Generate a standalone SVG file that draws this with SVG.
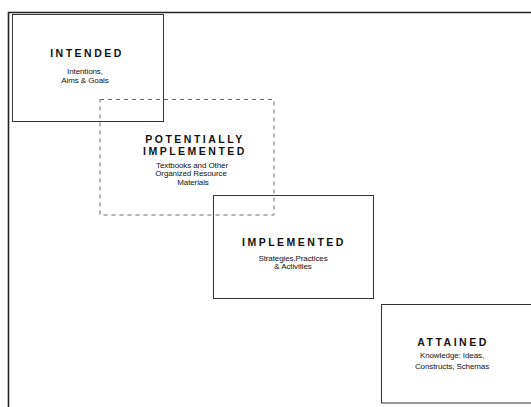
<svg xmlns="http://www.w3.org/2000/svg" width="531" height="407" viewBox="0 0 531 407">
<style>
.box{fill:none;stroke:#333;stroke-width:1}
.dash{fill:none;stroke:#666;stroke-width:1;stroke-dasharray:4 4}
.frame{fill:none;stroke:#222;stroke-width:1.6}
.h{font-family:"Liberation Sans",Arial,sans-serif;font-weight:bold;font-size:10.5px;letter-spacing:2.5px;fill:#111;text-anchor:middle}
.c{font-family:"Liberation Sans",Arial,sans-serif;font-size:8px;fill:#111;text-anchor:middle;letter-spacing:-0.1px}
</style>
<rect width="531" height="407" fill="#fff"/>
<path class="frame" d="M8.5,407 V12.5 H531"/>
<g id="connectors"></g>
<g id="intended">
<rect class="box" x="12.5" y="14.5" width="151" height="107"/>
<text class="h" x="87" y="57">INTENDED</text>
<text class="c" x="85" y="74">Intentions,</text>
<text class="c" x="85" y="82.5">Aims &amp; Goals</text>
</g>
<g id="potentially">
<rect class="dash" x="100" y="99.5" width="174" height="115.5"/>
<text class="h" x="195" y="143">POTENTIALLY</text>
<text class="h" x="195" y="155">IMPLEMENTED</text>
<text class="c" x="192" y="167.5">Textbooks and Other</text>
<text class="c" x="191" y="176">Organized Resource</text>
<text class="c" x="193" y="184.5">Materials</text>
</g>
<g id="implemented">
<rect class="box" x="213.5" y="195.5" width="160" height="103"/>
<text class="h" x="294" y="246">IMPLEMENTED</text>
<text class="c" x="293" y="260.5">Strategies,Practices</text>
<text class="c" x="293" y="269">&amp; Activities</text>
</g>
<g id="attained">
<rect class="box" x="381.5" y="304.5" width="160" height="98.5"/>
<text class="h" x="453" y="346">ATTAINED</text>
<text class="c" x="452" y="358">Knowledge: Ideas,</text>
<text class="c" x="452" y="368.5">Constructs, Schemas</text>
</g>
</svg>
